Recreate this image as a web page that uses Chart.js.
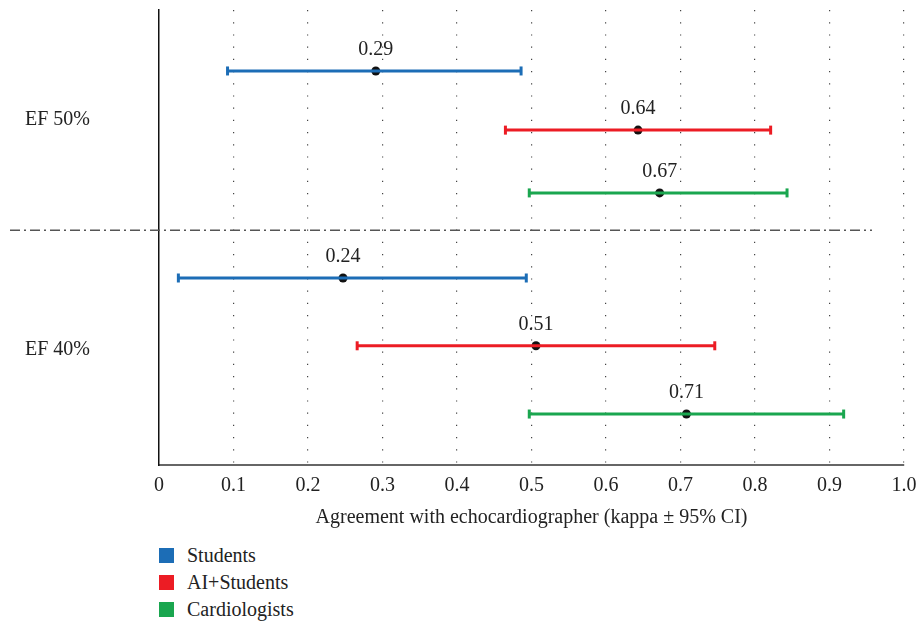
<!DOCTYPE html>
<html>
<head>
<meta charset="utf-8">
<script src="https://cdn.jsdelivr.net/npm/chart.js@4/dist/chart.umd.min.js"></script>
<style>
  body { margin: 0; background: #fff; }
  #wrap { position: relative; width: 916px; height: 624px; }
  #legend { position: absolute; left: 159px; top: 542px; font-family: "Liberation Serif", serif; font-size: 20px; color: #222; }
  .item { height: 27px; display: flex; align-items: center; }
  .sw { width: 15px; height: 15px; margin-right: 13px; }
</style>
</head>
<body>
<div id="wrap">
  <canvas id="forest" width="916" height="540"></canvas>
  <div id="legend"></div>
</div>
<script>
// groups (y axis labels) and series
var groups = ['EF 50%', 'EF 40%'];
var groupPos = [2.41, 7.47];
var seriesNames = ['Students', 'AI+Students', 'Cardiologists'];
var seriesColors = ['#1c6db6', '#ec1c24', '#1aa64f'];

// kappa and 95% CI, one value per group (EF 50%, EF 40%)
var studentsKappa = [0.291, 0.247];
var studentsLow = [0.092, 0.026];
var studentsHigh = [0.486, 0.493];
var studentsText = ['0.29', '0.24'];

var aiKappa = [0.643, 0.506];
var aiLow = [0.465, 0.266];
var aiHigh = [0.821, 0.746];
var aiText = ['0.64', '0.51'];

var cardKappa = [0.672, 0.708];
var cardLow = [0.497, 0.497];
var cardHigh = [0.843, 0.919];
var cardText = ['0.67', '0.71'];

// row positions on the y scale (reversed, 0..10)
var studentsRow = [1.34, 5.89];
var aiRow = [2.64, 7.38];
var cardRow = [4.02, 8.88];
var separatorPos = 4.84;

var xTickLabels = ['0', '0.1', '0.2', '0.3', '0.4', '0.5', '0.6', '0.7', '0.8', '0.9', '1.0'];
var xTitle = 'Agreement with echocardiographer (kappa \u00b1 95% CI)';

var kappas = [studentsKappa, aiKappa, cardKappa];
var lows = [studentsLow, aiLow, cardLow];
var highs = [studentsHigh, aiHigh, cardHigh];
var texts = [studentsText, aiText, cardText];
var rows = [studentsRow, aiRow, cardRow];

var serif = '"Liberation Serif", "DejaVu Serif", serif';

var datasets = [];
var points = [];
for (var s = 0; s < seriesNames.length; s++) {
    for (var g = 0; g < groups.length; g++) {
        datasets.push({
            label: seriesNames[s],
            data: [{ x: lows[s][g], y: rows[s][g] }, { x: highs[s][g], y: rows[s][g] }],
            showLine: true,
            borderColor: seriesColors[s],
            backgroundColor: seriesColors[s],
            borderWidth: 3,
            pointStyle: 'line',
            rotation: 90,
            pointRadius: 4.5,
            pointBorderWidth: 3,
            pointHoverRadius: 4.5
        });
        points.push({ x: kappas[s][g], y: rows[s][g], text: texts[s][g] });
    }
}
datasets.push({
    label: 'kappa',
    data: points,
    showLine: false,
    pointStyle: 'circle',
    pointRadius: 4.5,
    backgroundColor: '#111',
    borderColor: '#111',
    borderWidth: 0
});

var extras = {
    id: 'extras',
    afterDatasetsDraw: function (chart) {
        var ctx = chart.ctx;
        var xs = chart.scales.x, ys = chart.scales.y;
        ctx.save();
        // dash-dot separator between groups
        ctx.strokeStyle = '#555';
        ctx.lineWidth = 1.5;
        ctx.setLineDash([10, 4, 2, 4]);
        ctx.beginPath();
        var sy = ys.getPixelForValue(separatorPos);
        ctx.moveTo(xs.getPixelForValue(-0.2), sy);
        ctx.lineTo(xs.getPixelForValue(0.957), sy);
        ctx.stroke();
        ctx.setLineDash([]);
        // value labels
        ctx.fillStyle = '#222';
        ctx.font = '20px ' + serif;
        ctx.textAlign = 'center';
        ctx.textBaseline = 'bottom';
        points.forEach(function (p) {
            ctx.fillText(p.text, xs.getPixelForValue(p.x), ys.getPixelForValue(p.y) - 11);
        });
        ctx.restore();
    }
};

new Chart(document.getElementById('forest'), {
    type: 'scatter',
    data: { datasets: datasets },
    plugins: [extras],
    options: {
        responsive: false,
        animation: false,
        layout: { padding: { left: 25, right: 12, top: 10, bottom: 0 } },
        plugins: { legend: { display: false }, tooltip: { enabled: false } },
        scales: {
            x: {
                type: 'linear',
                min: 0,
                max: 1,
                afterBuildTicks: function (axis) {
                    axis.ticks = xTickLabels.map(function (t, i) { return { value: i / 10 }; });
                },
                afterFit: function (axis) {
                    axis.height = 75;
                    axis.paddingLeft = 0;
                    axis.paddingRight = 0;
                },
                ticks: {
                    callback: function (v, i) { return xTickLabels[i]; },
                    font: { family: serif, size: 20 },
                    color: '#222',
                    padding: 9,
                    maxRotation: 0
                },
                grid: {
                    color: function (c) { return c.tick && c.tick.value === 0 ? 'rgba(0,0,0,0)' : '#444'; },
                    lineWidth: 1.2,
                    drawTicks: false
                },
                border: { display: true, color: '#666', width: 2, dash: [1.2, 11] },
                title: {
                    display: true,
                    text: xTitle,
                    font: { family: serif, size: 20 },
                    color: '#222',
                    padding: { top: 4, bottom: 10 }
                }
            },
            y: {
                type: 'linear',
                reverse: true,
                min: 0,
                max: 10,
                afterBuildTicks: function (axis) {
                    axis.ticks = groupPos.map(function (p) { return { value: p }; });
                },
                afterFit: function (axis) {
                    axis.width = 134;
                    axis.paddingTop = 0;
                    axis.paddingBottom = 0;
                },
                ticks: {
                    callback: function (v, i) { return groups[i]; },
                    font: { family: serif, size: 20 },
                    color: '#222',
                    crossAlign: 'far'
                },
                grid: { display: false },
                border: { display: true, color: '#111', width: 1.5 }
            }
        }
    }
});

var legend = document.getElementById('legend');
seriesNames.forEach(function (n, i) {
    var d = document.createElement('div');
    d.className = 'item';
    d.innerHTML = '<span class="sw" style="background:' + seriesColors[i] + '"></span>' + n;
    legend.appendChild(d);
});
</script>
</body>
</html>
